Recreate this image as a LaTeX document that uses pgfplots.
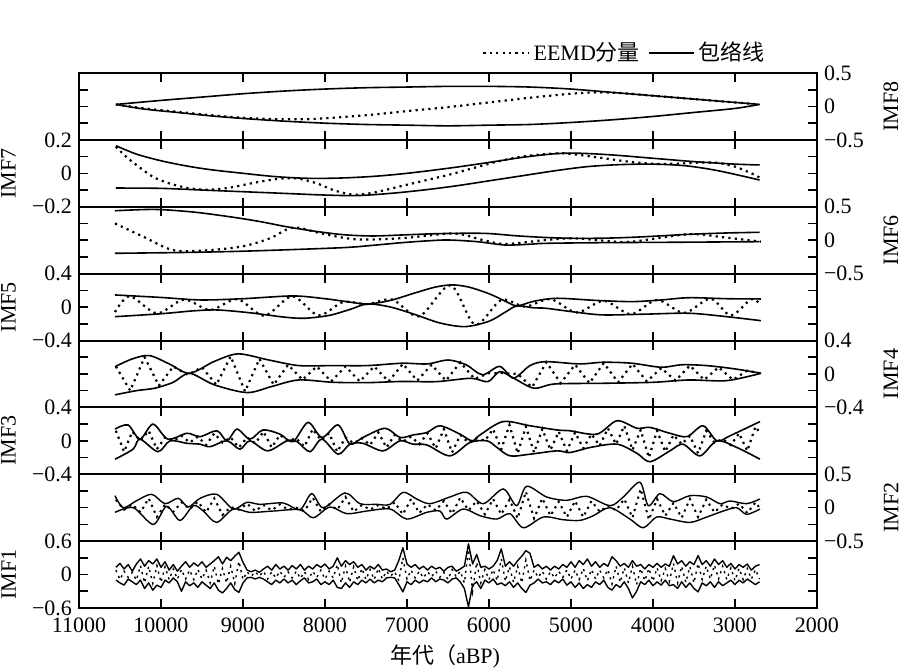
\documentclass[border=0pt]{standalone}
\usepackage{fontspec}
\setmainfont{Liberation Serif}
\newfontfamily\cjk{Noto Sans CJK SC}
\usepackage{pgfplots}
\usepackage{pgfplotstable}
\pgfplotsset{compat=1.18}

\pgfplotstableread{
yr up lo sg
10550 0.13 -0.10 0.08
10500 0.20 -0.15 -0.09
10450 0.10 -0.19 0.06
10400 0.18 -0.08 -0.05
10350 0.06 -0.13 0.04
10300 0.19 -0.18 -0.10
10250 0.28 -0.10 0.16
10200 0.15 -0.25 -0.15
10150 0.25 -0.15 0.15
10100 0.19 -0.28 -0.16
10050 0.28 -0.19 0.16
10000 0.13 -0.23 -0.14
9950 0.23 -0.10 0.14
9900 0.08 -0.15 -0.09
9850 0.18 -0.06 0.10
9800 0.06 -0.13 -0.08
9750 0.15 -0.30 0.09
9700 0.23 -0.13 -0.08
9650 0.13 -0.20 0.08
9600 0.21 -0.15 -0.09
9550 0.15 -0.23 0.09
9500 0.23 -0.13 -0.08
9450 0.13 -0.19 0.08
9400 0.19 -0.25 -0.15
9350 0.25 -0.15 0.15
9300 0.32 -0.28 -0.17
9250 0.19 -0.33 0.11
9200 0.31 -0.25 -0.15
9150 0.25 -0.15 0.15
9100 0.33 -0.27 -0.16
9050 0.40 -0.32 0.24
9000 0.22 -0.15 -0.09
8950 0.08 -0.06 0.05
8900 0.05 -0.05 -0.03
8850 0.08 -0.08 0.05
8800 0.04 -0.05 -0.03
8750 0.10 -0.08 0.06
8700 0.15 -0.13 -0.08
8650 0.08 -0.18 0.05
8600 0.18 -0.10 -0.06
8550 0.10 -0.15 0.06
8500 0.15 -0.08 -0.05
8450 0.08 -0.15 0.05
8400 0.16 -0.10 -0.06
8350 0.10 -0.18 0.06
8300 0.18 -0.11 -0.07
8250 0.08 -0.06 0.05
8200 0.15 -0.15 -0.09
8150 0.10 -0.13 0.06
8100 0.18 -0.08 -0.05
8050 0.13 -0.18 0.08
8000 0.19 -0.13 -0.08
7950 0.10 -0.18 0.06
7900 0.15 -0.10 -0.06
7850 0.30 -0.23 0.18
7800 0.15 -0.25 -0.15
7750 0.25 -0.15 0.15
7700 0.18 -0.23 -0.14
7650 0.23 -0.13 0.14
7600 0.13 -0.18 -0.11
7550 0.18 -0.10 0.11
7500 0.08 -0.15 -0.09
7450 0.15 -0.08 0.09
7400 0.10 -0.15 -0.09
7350 0.18 -0.10 0.11
7300 0.08 -0.13 -0.08
7250 0.10 -0.06 0.06
7200 0.05 -0.05 -0.03
7150 0.08 -0.06 0.05
7100 0.25 -0.18 -0.11
7050 0.48 -0.31 0.30
7000 0.19 -0.13 -0.08
6950 0.13 -0.18 0.08
6900 0.18 -0.10 -0.06
6850 0.10 -0.15 0.06
6800 0.15 -0.10 -0.06
6750 0.08 -0.13 0.05
6700 0.15 -0.06 -0.04
6650 0.10 -0.13 0.06
6600 0.13 -0.08 -0.05
6550 0.06 -0.10 0.04
6500 0.13 -0.15 -0.09
6450 0.15 -0.08 0.09
6400 0.06 -0.06 -0.04
6350 0.10 -0.13 0.06
6300 0.15 -0.25 -0.15
6250 0.55 -0.58 0.45
6200 0.19 -0.19 -0.30
6150 0.36 -0.13 0.22
6100 0.13 -0.25 -0.15
6050 0.15 -0.10 0.09
6000 0.10 -0.15 -0.09
5950 0.15 -0.08 0.09
5900 0.25 -0.18 -0.11
5850 0.46 -0.15 0.28
5800 0.15 -0.20 -0.12
5750 0.23 -0.13 0.14
5700 0.15 -0.23 -0.14
5650 0.25 -0.15 0.15
5600 0.33 -0.25 -0.15
5550 0.43 -0.32 0.26
5500 0.38 -0.19 -0.11
5450 0.13 -0.15 0.08
5400 0.18 -0.08 -0.05
5350 0.10 -0.15 0.06
5300 0.15 -0.13 -0.08
5250 0.08 -0.18 0.05
5200 0.15 -0.10 -0.06
5150 0.10 -0.15 0.06
5100 0.18 -0.08 -0.05
5050 0.13 -0.19 0.08
5000 0.23 -0.13 -0.08
4950 0.13 -0.23 0.08
4900 0.25 -0.15 -0.09
4850 0.18 -0.25 0.11
4800 0.28 -0.18 -0.11
4750 0.15 -0.23 0.09
4700 0.23 -0.13 -0.08
4650 0.13 -0.18 0.08
4600 0.20 -0.10 -0.06
4550 0.15 -0.23 0.09
4500 0.32 -0.28 -0.17
4450 0.25 -0.18 0.15
4400 0.15 -0.23 -0.14
4350 0.20 -0.13 0.12
4300 0.13 -0.25 -0.15
4250 0.25 -0.42 0.15
4200 0.15 -0.30 -0.18
4150 0.18 -0.13 0.11
4100 0.10 -0.18 -0.11
4050 0.18 -0.10 0.11
4000 0.13 -0.20 -0.12
3950 0.20 -0.13 0.12
3900 0.13 -0.19 -0.11
3850 0.19 -0.10 0.11
3800 0.15 -0.20 -0.12
3750 0.34 -0.18 0.20
3700 0.19 -0.25 -0.15
3650 0.25 -0.13 0.15
3600 0.15 -0.23 -0.14
3550 0.23 -0.15 0.14
3500 0.18 -0.25 -0.15
3450 0.34 -0.31 0.20
3400 0.18 -0.15 -0.09
3350 0.25 -0.20 0.15
3300 0.15 -0.13 -0.08
3250 0.28 -0.23 0.17
3200 0.18 -0.13 -0.08
3150 0.25 -0.20 0.15
3100 0.13 -0.15 -0.09
3050 0.20 -0.10 0.12
3000 0.10 -0.18 -0.11
2950 0.18 -0.10 0.11
2900 0.13 -0.15 -0.09
2850 0.19 -0.08 0.11
2800 0.08 -0.13 -0.08
2750 0.15 -0.18 0.09
2700 0.18 -0.13 -0.08
}\imfone

\def\myticks{%
  \draw[black, line width=0.8pt]
    (axis description cs:0.1111,0) -- ++(0pt,4.5pt)
    (axis description cs:0.2222,0) -- ++(0pt,4.5pt)
    (axis description cs:0.3333,0) -- ++(0pt,4.5pt)
    (axis description cs:0.4444,0) -- ++(0pt,4.5pt)
    (axis description cs:0.5556,0) -- ++(0pt,4.5pt)
    (axis description cs:0.6667,0) -- ++(0pt,4.5pt)
    (axis description cs:0.7778,0) -- ++(0pt,4.5pt)
    (axis description cs:0.8889,0) -- ++(0pt,4.5pt)
    (axis description cs:0.1111,1) -- ++(0pt,-4.5pt)
    (axis description cs:0.2222,1) -- ++(0pt,-4.5pt)
    (axis description cs:0.3333,1) -- ++(0pt,-4.5pt)
    (axis description cs:0.4444,1) -- ++(0pt,-4.5pt)
    (axis description cs:0.5556,1) -- ++(0pt,-4.5pt)
    (axis description cs:0.6667,1) -- ++(0pt,-4.5pt)
    (axis description cs:0.7778,1) -- ++(0pt,-4.5pt)
    (axis description cs:0.8889,1) -- ++(0pt,-4.5pt)
    (axis description cs:0,0.25) -- ++(2.2pt,0pt)
    (axis description cs:0,0.5) -- ++(2.2pt,0pt)
    (axis description cs:0,0.75) -- ++(2.2pt,0pt)
    (axis description cs:1,0.25) -- ++(-2.2pt,0pt)
    (axis description cs:1,0.5) -- ++(-2.2pt,0pt)
    (axis description cs:1,0.75) -- ++(-2.2pt,0pt);}

\pgfplotsset{
  base/.style={anchor=south west, width=369pt, height=33.4375pt, scale only axis,
    xmin=2000, xmax=11000, x dir=reverse, scaled x ticks=false, scaled y ticks=false,
    xtick={3000,4000,5000,6000,7000,8000,9000,10000}, xticklabels={},
    major tick length=4.5pt,
    tick style={draw=black, line width=0.8pt},
    axis line style={black, line width=1pt},
    tick label style={font=\fontsize{11}{13}\selectfont},
    xticklabel style={yshift=-1.5pt},
    label style={font=\fontsize{11}{13}\selectfont},
    legend image code/.code={\draw[##1] (0pt,0pt) -- (22.5pt,0pt);},
    execute at end axis={\myticks}},
  leftax/.style={base, yticklabel pos=left,
    ylabel style={at={(axis description cs:-0.0955,0.5)}, anchor=center}},
  rightax/.style={base, yticklabel pos=right,
    ylabel style={at={(axis description cs:1.1003,0.5)}, anchor=center}},
  env/.style={black, line width=0.8pt, smooth, no markers},
  envj/.style={black, line width=0.7pt, line join=round, no markers},
  sig/.style={black, line width=1.1pt, dash pattern=on 1.1pt off 2.1pt, no markers},
}

\begin{document}
\begin{tikzpicture}
\path[use as bounding box] (0,0) rectangle (450pt,335.5pt);

% IMF8
\begin{axis}[rightax, at={(39.5pt,265.5625pt)}, ymin=-0.5, ymax=0.5,
  ytick={-0.5,-0.25,0,0.25,0.5}, yticklabels={−0.5,,0,,0.5}, ylabel={IMF8},
  legend style={at={(axis description cs:0.943,1.30)}, anchor=east, draw=none, fill=none,
    legend columns=-1, font=\fontsize{11}{13}\selectfont,
    /tikz/every even column/.append style={column sep=2pt}}]
\addplot[sig, smooth] coordinates {(10550,0.03) (10200,-0.03) (9800,-0.08) (9400,-0.13) (9000,-0.17) (8600,-0.19) (8200,-0.19) (7800,-0.16) (7400,-0.12) (7000,-0.07) (6500,-0.01) (6000,0.06) (5500,0.13) (5000,0.19) (4700,0.21) (4400,0.20) (4000,0.16) (3500,0.11) (3000,0.06) (2700,0.03)};
\addlegendentry{EEMD{\cjk 分量}}
\addplot[env] coordinates {(10550,0.03) (10000,0.09) (9500,0.14) (9000,0.19) (8500,0.23) (8000,0.26) (7500,0.28) (7000,0.29) (6500,0.30) (6000,0.30) (5500,0.29) (5000,0.26) (4500,0.21) (4000,0.16) (3500,0.11) (3000,0.06) (2700,0.03)};
\addlegendentry{{\cjk 包络线}}
\addplot[env, forget plot] coordinates {(10550,0.03) (10200,-0.04) (9800,-0.09) (9400,-0.14) (9000,-0.18) (8500,-0.22) (8000,-0.25) (7500,-0.27) (7000,-0.28) (6500,-0.29) (6000,-0.28) (5500,-0.27) (5000,-0.24) (4500,-0.2) (4000,-0.15) (3500,-0.09) (3000,-0.03) (2700,0.03)};
\end{axis}

% IMF7
\begin{axis}[leftax, at={(39.5pt,232.125pt)}, ymin=-0.2, ymax=0.2,
  ytick={-0.2,-0.1,0,0.1,0.2}, yticklabels={−0.2,,0,,0.2}, ylabel={IMF7}]
\addplot[sig, smooth] coordinates {(10550,0.16) (10450,0.11) (10300,0.05) (10100,-0.02) (9900,-0.06) (9650,-0.09) (9400,-0.098) (9150,-0.085) (8900,-0.06) (8600,-0.035) (8350,-0.03) (8100,-0.06) (7900,-0.1) (7650,-0.128) (7400,-0.115) (7100,-0.08) (6800,-0.045) (6500,-0.01) (6200,0.03) (5900,0.07) (5600,0.1) (5300,0.115) (5100,0.12) (4900,0.11) (4600,0.09) (4300,0.07) (4000,0.057) (3700,0.058) (3400,0.065) (3200,0.062) (3000,0.04) (2800,0.0) (2700,-0.025)};
\addplot[env] coordinates {(10550,0.165) (10300,0.115) (10000,0.075) (9700,0.045) (9400,0.022) (9000,0.0) (8600,-0.02) (8200,-0.03) (7800,-0.028) (7400,-0.018) (7000,0.0) (6500,0.03) (6000,0.065) (5600,0.095) (5200,0.117) (4900,0.12) (4500,0.11) (4000,0.09) (3500,0.07) (3000,0.055) (2700,0.05)};
\addplot[env] coordinates {(10550,-0.088) (10000,-0.09) (9500,-0.1) (9000,-0.11) (8500,-0.12) (8000,-0.13) (7600,-0.133) (7200,-0.12) (6800,-0.1) (6400,-0.075) (6000,-0.045) (5600,-0.015) (5200,0.015) (4800,0.04) (4400,0.052) (4000,0.055) (3600,0.045) (3200,0.015) (2700,-0.04)};
\end{axis}

% IMF6
\begin{axis}[rightax, at={(39.5pt,198.6875pt)}, ymin=-0.5, ymax=0.5,
  ytick={-0.5,-0.25,0,0.25,0.5}, yticklabels={−0.5,,0,,0.5}, ylabel={IMF6}]
\addplot[sig, smooth] coordinates {(10561,0.25) (10212,0.05) (9862,-0.147) (9512,-0.157) (9024,-0.097) (8671,0.028) (8390,0.19) (8040,0.1) (7622,0.013) (7061,0.03) (6430,0.1) (6079,0.003) (5799,-0.057) (5309,0.003) (4959,0.028) (4610,-0.007) (4259,-0.022) (3561,0.09) (3138,0.043) (2683,-0.022)};
\addplot[env] coordinates {(10561,0.44) (10073,0.46) (9600,0.42) (9159,0.35) (8800,0.28) (8463,0.2) (8100,0.13) (7756,0.08) (7415,0.063) (7061,0.078) (6700,0.095) (6354,0.103) (6012,0.1) (5659,0.065) (5300,0.04) (4964,0.028) (4600,0.03) (4256,0.043) (3900,0.065) (3561,0.088) (3100,0.108) (2700,0.118)};
\addplot[env] coordinates {(10561,-0.196) (9800,-0.185) (9159,-0.17) (8500,-0.145) (7756,-0.11) (7400,-0.075) (7061,-0.037) (6750,-0.01) (6500,0.003) (6146,-0.022) (5805,-0.072) (5500,-0.06) (5305,-0.047) (4610,-0.037) (3600,-0.03) (2700,-0.022)};
\end{axis}

% IMF5
\begin{axis}[leftax, at={(39.5pt,165.25pt)}, ymin=-0.4, ymax=0.4,
  ytick={-0.4,-0.2,0,0.2,0.4}, yticklabels={−0.4,,0,,0.4}, ylabel={IMF5}]
\addplot[sig, smooth] coordinates {(10561,-0.06) (10380,0.13) (10050,-0.075) (9720,0.09) (9400,-0.035) (9070,0.095) (8740,-0.105) (8400,0.13) (8080,-0.1) (7780,0.06) (7480,0.035) (7180,0.09) (6850,-0.11) (6470,0.26) (6170,-0.21) (5850,0.085) (5560,0.005) (5250,0.095) (4930,-0.065) (4600,0.075) (4270,-0.085) (3950,0.085) (3620,-0.07) (3300,0.1) (3050,-0.1) (2800,0.095) (2683,0.02)};
\addplot[env] coordinates {(10561,0.145) (10000,0.115) (9512,0.085) (9000,0.1) (8390,0.133) (8000,0.1) (7700,0.06) (7480,0.037) (7200,0.08) (6900,0.17) (6650,0.24) (6450,0.265) (6250,0.24) (6000,0.16) (5800,0.07) (5659,0.015) (5450,0.07) (5171,0.105) (4700,0.08) (4256,0.065) (3900,0.085) (3561,0.112) (3100,0.1) (2683,0.097)};
\addplot[env] coordinates {(10561,-0.115) (10000,-0.08) (9600,-0.045) (9305,-0.035) (8900,-0.07) (8500,-0.12) (8250,-0.134) (7950,-0.1) (7700,-0.03) (7480,0.037) (7200,0.0) (6900,-0.09) (6600,-0.19) (6293,-0.234) (6000,-0.17) (5800,-0.06) (5659,0.013) (5450,-0.01) (5309,-0.014) (4950,-0.06) (4610,-0.094) (4100,-0.085) (3561,-0.074) (3100,-0.115) (2683,-0.163)};
\end{axis}

% IMF4
\begin{axis}[rightax, at={(39.5pt,131.8125pt)}, ymin=-0.4, ymax=0.4,
  ytick={-0.4,-0.2,0,0.2,0.4}, yticklabels={−0.4,,0,,0.4}, ylabel={IMF4}]
\addplot[sig] coordinates {(10550,0.09) (10375,-0.2) (10200,0.2) (10025,-0.14) (9850,0.09) (9675,-0.01) (9500,0.08) (9325,-0.13) (9150,0.21) (8975,-0.21) (8800,0.18) (8625,-0.13) (8450,0.11) (8275,-0.07) (8100,0.09) (7925,-0.09) (7750,0.09) (7575,-0.09) (7400,0.09) (7225,-0.09) (7050,0.12) (6875,-0.08) (6700,0.11) (6525,-0.08) (6350,0.14) (6175,-0.06) (6000,0.01) (5825,0.01) (5650,0.0) (5475,-0.16) (5300,0.14) (5125,-0.11) (4950,0.11) (4775,-0.11) (4600,0.13) (4425,-0.1) (4250,0.12) (4075,-0.09) (3900,0.07) (3725,-0.08) (3550,0.1) (3375,-0.07) (3200,0.08) (3025,-0.07) (2850,0.04) (2700,0.008)};
\addplot[env] coordinates {(10561,0.087) (10350,0.18) (10142,0.22) (9900,0.12) (9652,0.008) (9350,0.15) (9060,0.24) (8700,0.17) (8321,0.1) (7900,0.1) (7480,0.1) (7061,0.128) (6750,0.12) (6500,0.167) (6280,0.11) (6079,-0.01) (5870,0.09) (5700,-0.05) (5500,0.1) (5309,0.147) (4900,0.12) (4600,0.14) (4256,0.128) (3900,0.08) (3650,0.11) (3348,0.1) (3000,0.06) (2683,0.008)};
\addplot[env] coordinates {(10561,-0.25) (10300,-0.2) (10073,-0.17) (9850,-0.1) (9652,0.008) (9350,-0.13) (8951,-0.223) (8650,-0.15) (8321,-0.072) (7900,-0.1) (7480,-0.104) (7061,-0.09) (6640,-0.092) (6220,-0.052) (6012,-0.092) (5870,0.028) (5700,-0.05) (5451,-0.171) (5200,-0.12) (4610,-0.112) (4000,-0.1) (3561,-0.072) (3100,-0.08) (2683,0.008)};
\end{axis}

% IMF3
\begin{axis}[leftax, at={(39.5pt,98.375pt)}, ymin=-0.4, ymax=0.4,
  ytick={-0.4,-0.2,0,0.2,0.4}, yticklabels={−0.4,,0,,0.4}, ylabel={IMF3}]
\addplot[sig] coordinates {(10550,0.12) (10450,-0.13) (10350,0.11) (10250,0.0) (10150,0.12) (10050,-0.1) (9950,0.04) (9850,0.0) (9750,0.06) (9650,-0.02) (9550,0.05) (9450,-0.05) (9350,0.09) (9250,-0.02) (9150,0.04) (9050,-0.08) (8950,0.04) (8850,-0.03) (8750,0.11) (8650,-0.08) (8550,0.07) (8450,0.0) (8350,0.03) (8250,-0.07) (8150,0.14) (8050,0.01) (7950,0.09) (7850,-0.13) (7750,0.04) (7650,-0.03) (7550,0.03) (7450,-0.05) (7350,0.1) (7250,-0.08) (7150,0.07) (7050,-0.01) (6950,0.05) (6850,-0.04) (6750,0.09) (6650,-0.09) (6550,0.14) (6450,-0.14) (6350,0.07) (6250,-0.02) (6150,0.03) (6050,0.0) (5950,0.14) (5850,-0.1) (5750,0.19) (5650,-0.15) (5550,0.17) (5450,-0.14) (5350,0.14) (5250,-0.11) (5150,0.11) (5050,-0.12) (4950,0.1) (4850,-0.09) (4750,0.08) (4650,-0.06) (4550,0.15) (4450,-0.04) (4350,0.18) (4250,-0.11) (4150,0.13) (4050,-0.2) (3950,0.12) (3850,-0.13) (3750,0.07) (3650,-0.04) (3550,0.06) (3450,-0.15) (3350,0.12) (3250,-0.02) (3150,0.02) (3050,-0.05) (2950,0.09) (2850,-0.12) (2750,0.17) (2700,0.1)};
\addplot[env] coordinates {(10561,0.14) (10402,0.19) (10256,0.02) (10098,0.2) (9915,0.02) (9683,0.09) (9524,0.05) (9317,0.12) (9195,0.0) (9073,0.14) (8915,0.02) (8756,0.13) (8549,0.08) (8390,-0.01) (8207,0.22) (8037,0.04) (7841,0.19) (7695,-0.04) (7537,0.04) (7268,0.15) (7085,0.04) (6927,0.07) (6756,0.1) (6598,0.18) (6354,0.08) (6207,0.0) (6110,0.07) (5829,0.23) (5500,0.18) (5171,0.13) (5012,0.12) (4683,0.08) (4439,0.24) (4195,0.15) (4037,0.16) (3793,0.09) (3585,0.05) (3390,0.18) (3220,0.0) (3061,0.06) (2695,0.23)};
\addplot[env] coordinates {(10561,-0.22) (10341,-0.1) (10256,0.02) (10037,-0.13) (9890,0.0) (9683,-0.03) (9524,-0.04) (9402,-0.07) (9195,0.0) (9037,-0.1) (8915,0.0) (8700,-0.12) (8463,0.0) (8341,-0.01) (8183,-0.13) (8037,0.02) (7841,-0.16) (7695,-0.04) (7537,-0.03) (7293,-0.12) (7085,0.0) (6927,-0.04) (6756,-0.05) (6476,-0.18) (6232,-0.02) (6024,0.0) (5902,-0.08) (5744,-0.18) (5500,-0.16) (5171,-0.12) (5012,-0.14) (4768,-0.08) (4439,-0.04) (4195,-0.15) (4037,-0.25) (3793,-0.12) (3634,-0.04) (3427,-0.18) (3220,0.0) (2976,-0.08) (2695,-0.22)};
\end{axis}

% IMF2
\begin{axis}[rightax, at={(39.5pt,64.9375pt)}, ymin=-0.5, ymax=0.5,
  ytick={-0.5,-0.25,0,0.25,0.5}, yticklabels={−0.5,,0,,0.5}, ylabel={IMF2}]
\addplot[sig, line width=1pt] coordinates {(10550,0.12) (10450,-0.03) (10350,0.05) (10250,-0.07) (10150,0.14) (10050,-0.14) (9950,0.05) (9850,-0.06) (9750,0.08) (9650,-0.02) (9550,0.09) (9450,-0.07) (9350,0.14) (9250,-0.11) (9150,0.01) (9050,-0.03) (8950,0.06) (8850,-0.05) (8750,0.04) (8650,-0.04) (8550,0.05) (8450,-0.03) (8350,0.0) (8250,-0.05) (8150,0.15) (8050,-0.06) (7950,0.05) (7850,-0.03) (7750,0.16) (7650,-0.06) (7550,0.04) (7450,-0.03) (7350,0.04) (7250,-0.02) (7150,0.08) (7050,-0.1) (6950,0.13) (6850,-0.08) (6750,0.05) (6650,-0.04) (6550,0.1) (6450,-0.09) (6350,0.15) (6250,-0.04) (6150,0.1) (6050,-0.1) (5950,0.13) (5850,-0.1) (5750,0.12) (5650,-0.16) (5550,0.24) (5450,-0.16) (5350,0.14) (5250,-0.12) (5150,0.09) (5050,-0.14) (4950,0.1) (4850,-0.14) (4750,0.1) (4650,-0.06) (4550,0.03) (4450,-0.04) (4350,0.13) (4250,-0.15) (4150,0.28) (4050,-0.18) (3950,0.13) (3850,-0.12) (3750,0.07) (3650,-0.15) (3550,0.13) (3450,-0.14) (3350,0.12) (3250,-0.07) (3150,0.05) (3050,-0.02) (2950,0.06) (2850,-0.08) (2750,0.08) (2700,0.0)};
\addplot[env, line width=0.7pt] coordinates {(10561,0.18) (10460,0.0) (10297,0.105) (10113,0.2) (9951,0.06) (9789,0.14) (9667,0.01) (9524,0.14) (9321,0.2) (9118,-0.02) (8955,0.08) (8793,0.05) (8508,0.07) (8305,-0.03) (8162,0.21) (8021,0.0) (7756,0.22) (7573,0.06) (7370,0.05) (7207,0.05) (7045,0.23) (6882,0.13) (6720,0.06) (6476,0.16) (6272,0.23) (6069,0.06) (5826,0.28) (5663,0.03) (5541,0.32) (5297,0.16) (5053,0.11) (4809,0.17) (4525,0.03) (4362,0.16) (4159,0.38) (4057,0.03) (3915,0.21) (3752,0.09) (3549,0.18) (3345,0.16) (3183,0.06) (3061,0.1) (2858,0.06) (2695,0.13)};
\addplot[env, line width=0.7pt] coordinates {(10561,-0.07) (10338,0.0) (10094,-0.25) (9931,0.02) (9768,-0.19) (9606,0.03) (9484,-0.05) (9321,-0.22) (9118,-0.02) (8915,-0.07) (8630,-0.05) (8305,-0.03) (8143,-0.15) (7939,0.01) (7735,-0.09) (7491,-0.05) (7207,-0.02) (7004,-0.17) (6760,-0.07) (6598,-0.05) (6516,-0.17) (6313,-0.02) (6110,-0.12) (5906,-0.17) (5744,-0.09) (5581,-0.3) (5337,-0.14) (5094,-0.18) (4890,-0.19) (4728,-0.12) (4525,0.0) (4281,-0.17) (4118,-0.3) (3955,-0.14) (3793,-0.17) (3549,-0.22) (3345,-0.14) (3143,-0.05) (2980,0.0) (2858,-0.1) (2695,-0.02)};
\end{axis}

% IMF1
\begin{axis}[leftax, at={(39.5pt,31.5pt)}, ymin=-0.6, ymax=0.6,
  ytick={-0.6,-0.3,0,0.3,0.6}, yticklabels={−0.6,,0,,0.6}, ylabel={IMF1},
  xtick={2000,3000,4000,5000,6000,7000,8000,9000,10000,11000},
  xticklabels={2000,3000,4000,5000,6000,7000,8000,9000,10000,11000},
  xlabel={{\cjk 年代（}aBP)},
  xlabel style={at={(axis description cs:0.496,-0.72)}, anchor=center}]
\addplot[sig, line width=0.7pt] table[x=yr, y=sg] {\imfone};
\addplot[envj] table[x=yr, y=up] {\imfone};
\addplot[envj] table[x=yr, y=lo] {\imfone};
\end{axis}
\end{tikzpicture}
\end{document}
